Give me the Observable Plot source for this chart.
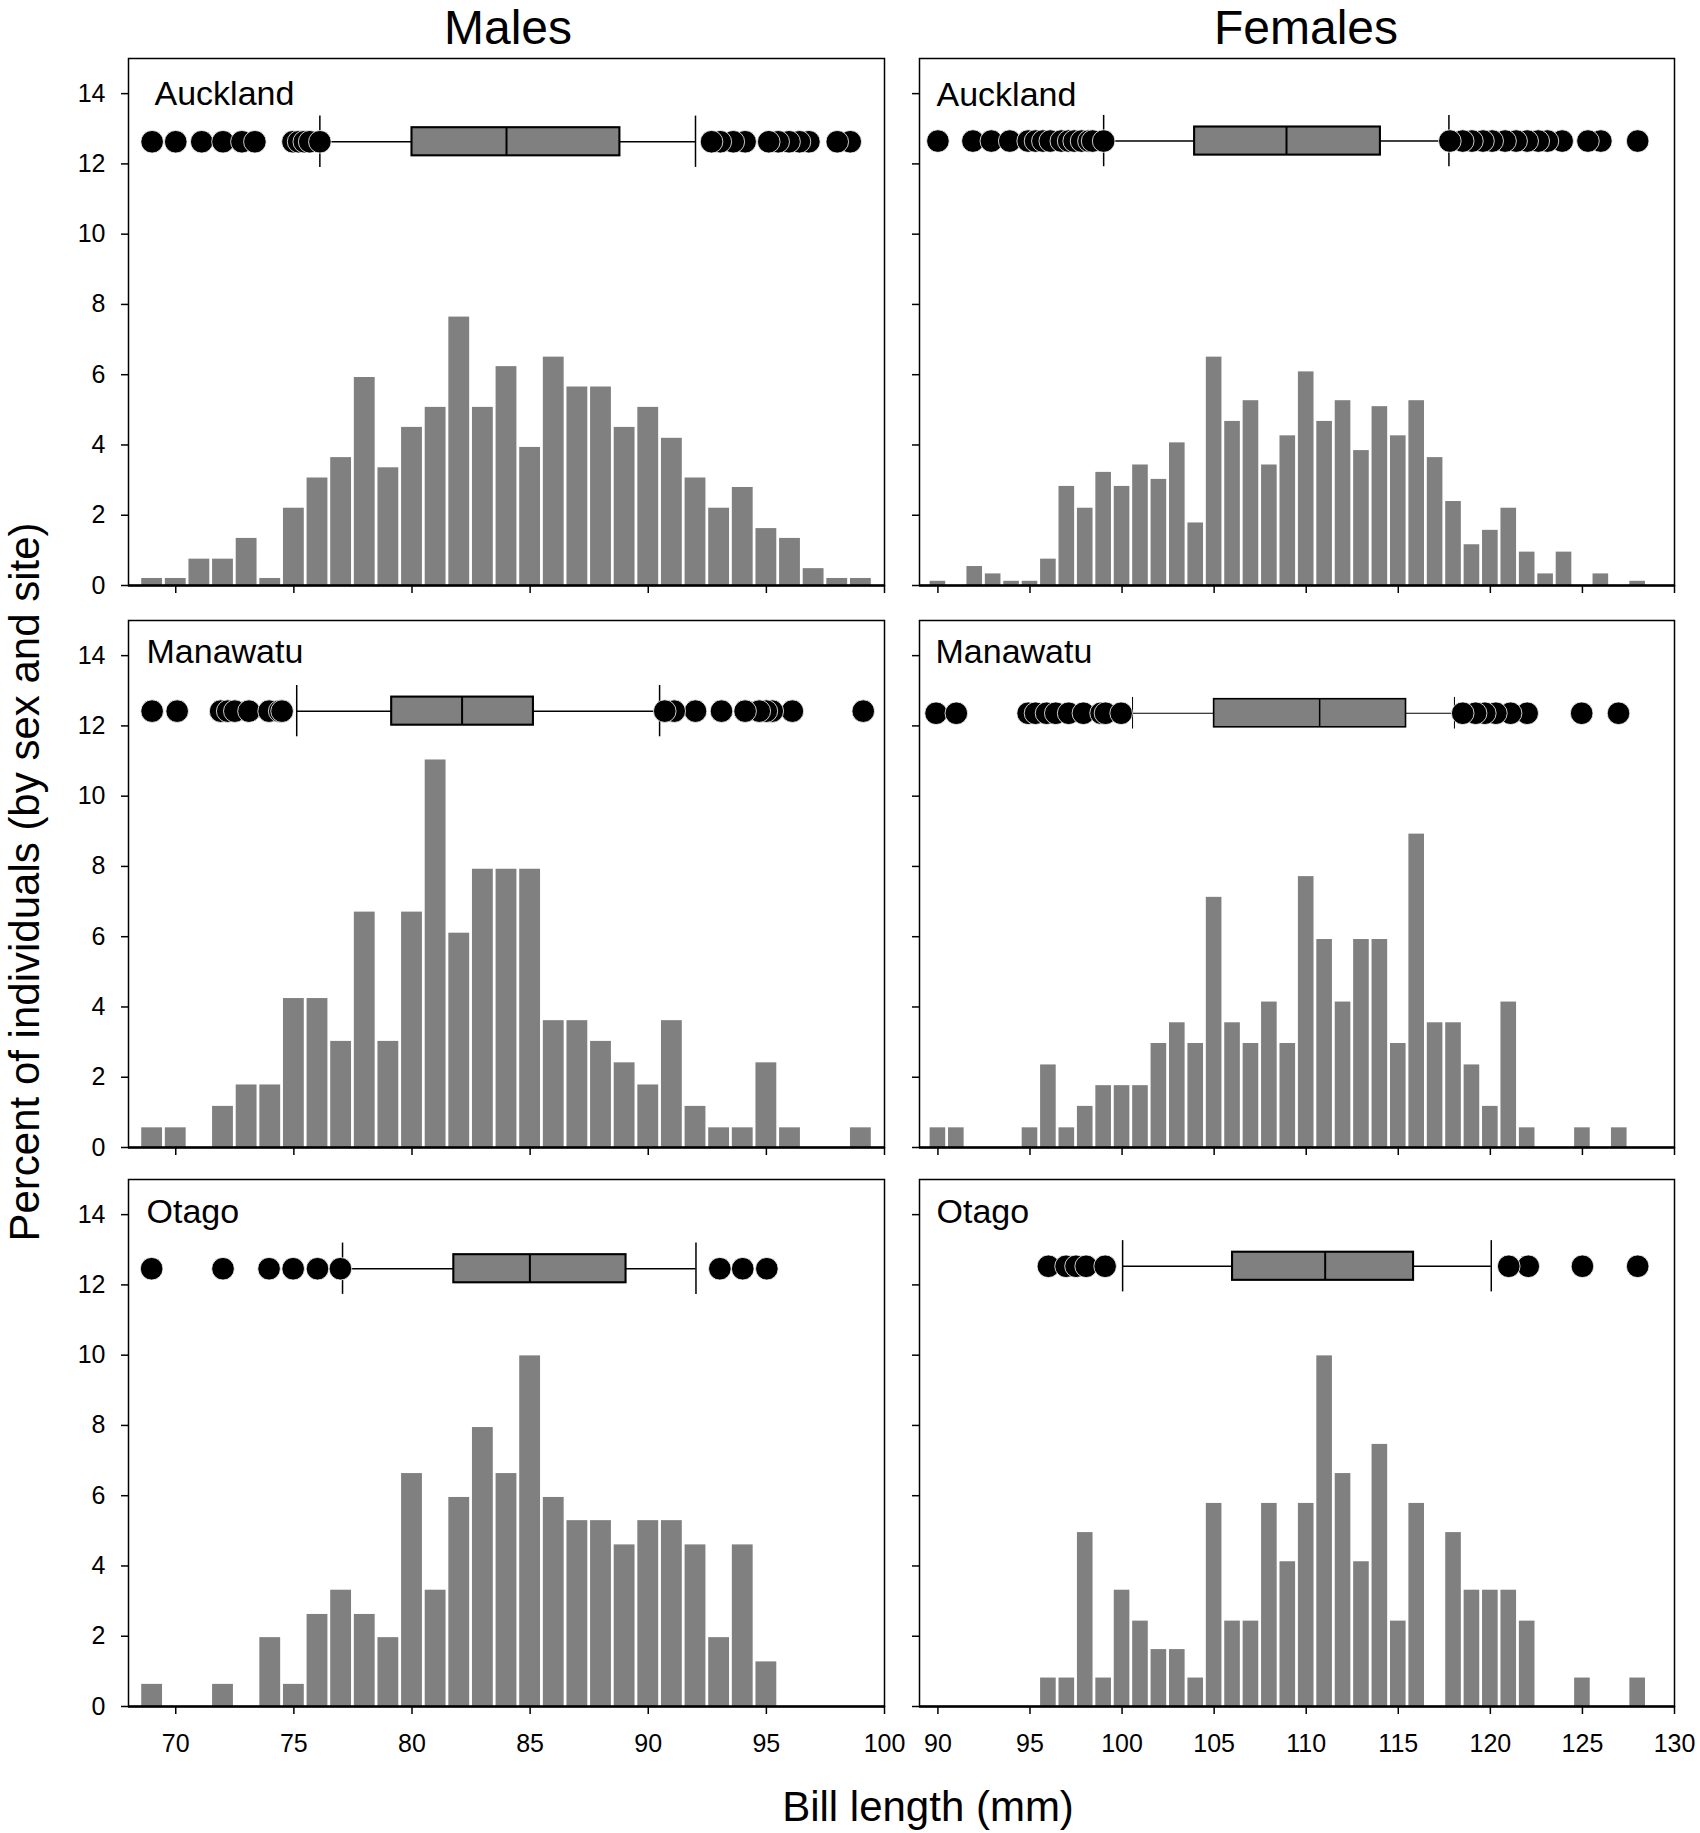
<!DOCTYPE html>
<html><head><meta charset="utf-8">
<script src="https://cdn.jsdelivr.net/npm/d3@7"></script>
<script src="https://cdn.jsdelivr.net/npm/@observablehq/plot@0.6"></script>
<style>
body{margin:0;background:#fff;}
#wrap{position:relative;width:1700px;height:1833px;background:#fff;font-family:Arial,"Liberation Sans",sans-serif;overflow:hidden;}
.panel{position:absolute;}
.panel svg{overflow:visible;}
</style></head><body><div id="wrap"></div>
<script>
// ---------- data ----------
const sexes = ["Males", "Females"];
const sites = ["Auckland", "Manawatu", "Otago"];
const maleBins = [69,70,71,72,73,74,75,76,77,78,79,80,81,82,83,84,85,86,87,88,89,90,91,92,93,94,95,96,97,98,99];
const femaleBins = [90,91,92,93,94,95,96,97,98,99,100,101,102,103,104,105,106,107,108,109,110,111,112,113,114,115,116,117,118,119,120,121,122,123,124,125,126,127,128];
const maleTicks = [70,75,80,85,90,95,100];
const femaleTicks = [90,95,100,105,110,115,120,125,130];
const yTicks = [0,2,4,6,8,10,12,14];

// percent of individuals per 1-mm bin
const maleAucklandPct = [0.2,0.2,0.75,0.75,1.34,0.2,2.2,3.06,3.64,5.92,3.35,4.5,5.07,7.64,5.07,6.23,3.93,6.5,5.65,5.65,4.5,5.07,4.19,3.06,2.2,2.79,1.62,1.34,0.48,0.2,0.2];
const maleManawatuPct = [0.56,0.56,0,1.17,1.78,1.78,4.24,4.24,3.02,6.7,3.02,6.7,11.03,6.1,7.92,7.92,7.92,3.61,3.61,3.02,2.41,1.78,3.61,1.17,0.56,0.56,2.41,0.56,0,0,0.56];
const maleOtagoPct = [0.63,0,0,0.63,0,1.96,0.63,2.62,3.31,2.62,1.96,6.63,3.31,5.95,7.94,6.63,9.98,5.95,5.29,5.29,4.6,5.29,5.29,4.6,1.96,4.6,1.27,0,0,0,0];
const femaleAucklandPct = [0.12,0,0.54,0.33,0.12,0.12,0.75,2.82,2.2,3.22,2.82,3.43,3.02,4.06,1.78,6.5,4.67,5.26,3.43,4.26,6.08,4.67,5.26,3.84,5.09,4.26,5.26,3.64,2.39,1.16,1.57,2.2,0.95,0.33,0.95,0,0.33,0,0.12];
const femaleManawatuPct = [0.56,0.56,0,0,0,0.56,2.35,0.56,1.17,1.76,1.76,1.76,2.96,3.55,2.96,7.12,3.55,2.96,4.14,2.96,7.71,5.92,4.14,5.92,5.92,2.96,8.92,3.55,3.55,2.35,1.17,4.14,0.56,0,0,0.56,0,0.56,0];
const femaleOtagoPct = [0,0,0,0,0,0,0.81,0.81,4.95,0.81,3.31,2.43,1.62,1.62,0.81,5.78,2.43,2.43,5.78,4.12,5.78,9.98,6.63,4.12,7.46,2.43,5.78,0,4.95,3.31,3.31,3.31,2.43,0,0,0.81,0,0,0.81];

// box plots: [lower whisker, Q1, median, Q3, upper whisker]
const maleAucklandBox = [76.1, 80.0, 84.0, 88.8, 92.0];
const maleManawatuBox = [75.12, 79.14, 82.12, 85.14, 90.48];
const maleOtagoBox = [77.06, 81.77, 84.99, 89.06, 92.02];
const femaleAucklandBox = [99.0, 103.94, 108.93, 114.03, 117.75];
const femaleManawatuBox = [100.57, 105.0, 110.73, 115.42, 118.05];
const femaleOtagoBox = [100.03, 106.0, 111.03, 115.83, 120.05];

// outliers
const maleAucklandOut = [69.0,70.0,71.1,72.0,72.8,73.35,74.96,75.2,75.44,75.67,76.1,92.68,93.05,93.6,94.1,95.1,95.5,95.96,96.4,96.8,98.0,98.55];
const maleManawatuOut = [69.0,70.06,71.9,72.2,72.5,73.1,73.95,74.4,74.5,90.7,91.1,92.0,93.1,94.1,94.7,95.0,95.25,96.1,99.1];
const maleOtagoOut = [68.98,72.0,73.95,74.97,76.0,76.97,93.03,94.0,95.02];
const femaleAucklandOut = [90.0,91.9,92.9,93.9,94.9,95.3,95.7,96.1,96.7,97.1,97.4,97.8,98.2,98.4,99.0,117.8,118.5,119.0,119.6,120.1,120.8,121.4,122.0,122.6,123.1,123.9,125.3,126.0,128.0];
const femaleManawatuOut = [89.9,91.0,94.9,95.3,95.9,96.4,97.1,97.9,98.86,99.1,99.95,118.5,119.2,119.7,120.3,121.1,122.0,124.96,126.96];
const femaleOtagoOut = [96.0,96.96,97.5,98.05,99.08,121.0,122.06,125.0,128.0];

// ---------- layout ----------
const FONT = "Arial, 'Liberation Sans', sans-serif";
const colX = [128, 919], colW = [756, 755];
const rowY = [58, 620, 1179], H = 527;
const titleX = [508, 1306];
const xDomains = [[68, 100], [89, 130]];
const xTickSets = [maleTicks, femaleTicks];
const binSets = [maleBins, femaleBins];

const panels = [
  {col:0,row:0,pct:maleAucklandPct,box:maleAucklandBox,out:maleAucklandOut,boxY:12.63,cap:0.73,lw:1.5,dx:26,dy:46},
  {col:0,row:1,pct:maleManawatuPct,box:maleManawatuBox,out:maleManawatuOut,boxY:12.42,cap:0.73,lw:1.5,dx:18,dy:42},
  {col:0,row:2,pct:maleOtagoPct,box:maleOtagoBox,out:maleOtagoOut,boxY:12.46,cap:0.73,lw:1.5,dx:18,dy:43},
  {col:1,row:0,pct:femaleAucklandPct,box:femaleAucklandBox,out:femaleAucklandOut,boxY:12.65,cap:0.73,lw:1.5,dx:17,dy:47},
  {col:1,row:1,pct:femaleManawatuPct,box:femaleManawatuBox,out:femaleManawatuOut,boxY:12.36,cap:0.45,lw:1,dx:16,dy:42},
  {col:1,row:2,pct:femaleOtagoPct,box:femaleOtagoBox,out:femaleOtagoOut,boxY:12.53,cap:0.73,lw:1.5,dx:17,dy:43}
];

const wrap = document.getElementById("wrap");

// titles
const bg = d3.select(wrap).append("svg")
  .attr("width", 1700).attr("height", 1833)
  .style("position", "absolute").style("left", 0).style("top", 0)
  .attr("font-family", FONT);
sexes.forEach((s, i) => {
  bg.append("text").attr("x", titleX[i]).attr("y", 44)
    .attr("text-anchor", "middle").attr("font-size", 48).text(s);
});
bg.append("text").attr("transform", "translate(39,882) rotate(-90)")
  .attr("text-anchor", "middle").attr("font-size", 42)
  .text("Percent of individuals (by sex and site)");
bg.append("text").attr("x", 928).attr("y", 1821)
  .attr("text-anchor", "middle").attr("font-size", 42).text("Bill length (mm)");

panels.forEach(p => {
  const mL = p.col === 0 ? 80 : 20, mR = p.col === 0 ? 20 : 24, mT = 10, mB = p.row === 2 ? 60 : 20;
  const bins = binSets[p.col];
  const bars = bins.map((b, i) => ({bin: b, pct: p.pct[i]})).filter(d => d.pct > 0);
  const [lo, q1, med, q3, hi] = p.box;
  const left = p.out.filter(v => v < med).sort(d3.ascending);
  const right = p.out.filter(v => v > med).sort(d3.descending);
  const half = 0.4;
  const chart = Plot.plot({
    width: mL + colW[p.col] + mR,
    height: mT + H + mB,
    marginLeft: mL, marginRight: mR, marginTop: mT, marginBottom: mB,
    style: {background: "transparent", overflow: "visible", fontFamily: FONT, fontSize: "25px", color: "black"},
    x: {domain: xDomains[p.col]},
    y: {domain: [0, 15]},
    marks: [
      Plot.rectY(bars, {x1: d => d.bin - 0.5, x2: d => d.bin + 0.5, y: "pct", fill: "#808080", insetLeft: 1.4, insetRight: 1.4}),
      Plot.ruleY([{a: lo, b: q1}, {a: q3, b: hi}], {x1: "a", x2: "b", y: () => p.boxY, stroke: "black", strokeWidth: p.lw}),
      Plot.rect([{q1, q3}], {x1: "q1", x2: "q3", y1: () => p.boxY - half, y2: () => p.boxY + half, fill: "#808080", stroke: "black", strokeWidth: p.lw + 0.6}),
      Plot.ruleX([med], {x: d => d, y1: () => p.boxY - half, y2: () => p.boxY + half, stroke: "black", strokeWidth: p.lw + 0.5}),
      Plot.ruleX([lo, hi], {x: d => d, y1: () => p.boxY - p.cap, y2: () => p.boxY + p.cap, stroke: "black", strokeWidth: p.lw}),
      Plot.dot([...left, ...right], {x: d => d, y: () => p.boxY, r: 11.3, fill: "black", stroke: "white", strokeWidth: 0.8}),
      Plot.axisX({ticks: xTickSets[p.col], tickSize: 8, tickPadding: 20, strokeWidth: 1.5,
        tickFormat: p.row === 2 ? (d => String(d)) : (() => ""), label: null}),
      Plot.axisY({ticks: yTicks, tickSize: 7, tickPadding: 16, strokeWidth: 1.5,
        tickFormat: p.col === 0 ? (d => String(d)) : (() => ""), label: null}),
      Plot.frame({stroke: "black", strokeWidth: 1.5}),
      Plot.ruleY([0], {stroke: "black", strokeWidth: 2.5}),
      Plot.text([sites[p.row]], {frameAnchor: "top-left", dx: p.dx, dy: p.dy, lineAnchor: "bottom", textAnchor: "start", fontSize: 34, fill: "black"})
    ]
  });
  const div = document.createElement("div");
  div.className = "panel";
  div.style.left = (colX[p.col] - mL) + "px";
  div.style.top = (rowY[p.row] - mT) + "px";
  div.appendChild(chart);
  wrap.appendChild(div);
});
</script></body></html>
